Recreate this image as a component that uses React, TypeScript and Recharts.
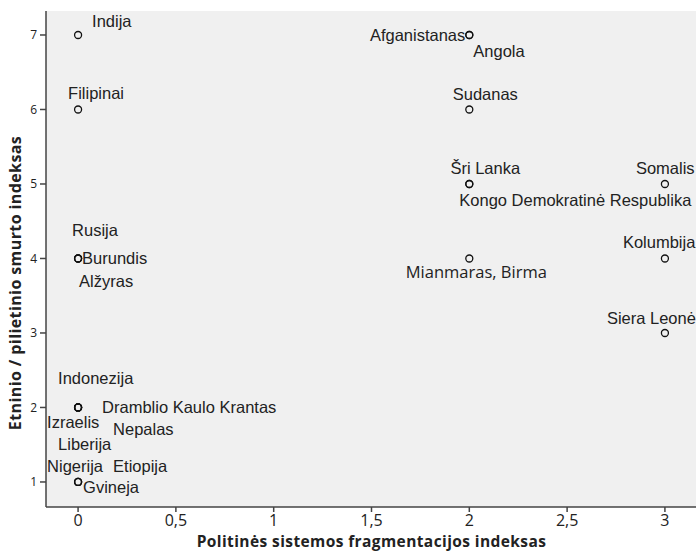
import React from 'react';
import { ScatterChart, Scatter, XAxis, YAxis, CartesianGrid } from 'recharts';

const countries = [
  'Indija', 'Filipinai', 'Rusija', 'Burundis', 'Alžyras', 'Indonezija',
  'Dramblio Kaulo Krantas', 'Izraelis', 'Nepalas', 'Liberija', 'Nigerija',
  'Etiopija', 'Gvineja', 'Afganistanas', 'Angola', 'Sudanas', 'Šri Lanka',
  'Kongo Demokratinė Respublika', 'Mianmaras, Birma', 'Somalis', 'Kolumbija',
  'Siera Leonė',
];
const fragmentation = [0, 0, 0, 0, 0, 0, 0, 0, 0, 0, 0, 0, 0, 2, 2, 2, 2, 2, 2, 3, 3, 3];
const violence = [7, 6, 4, 4, 4, 2, 2, 2, 2, 2, 1, 1, 1, 7, 7, 6, 5, 5, 4, 5, 4, 3];

const xTicks = [0, 0.5, 1, 1.5, 2, 2.5, 3];
const yTicks = [1, 2, 3, 4, 5, 6, 7];

// label placement relative to the marker (px)
const labelPos: Record<string, { dx: number; dy: number; anchor: 'start' | 'middle' | 'end'; font?: string }> = {
  'Indija': { dx: 14, dy: -14, anchor: 'start' },
  'Filipinai': { dx: -10, dy: -16, anchor: 'start' },
  'Rusija': { dx: -6, dy: -28, anchor: 'start' },
  'Burundis': { dx: 4, dy: 0, anchor: 'start' },
  'Alžyras': { dx: 1, dy: 23, anchor: 'start' },
  'Indonezija': { dx: -20, dy: -29, anchor: 'start' },
  'Dramblio Kaulo Krantas': { dx: 24, dy: 0, anchor: 'start' },
  'Izraelis': { dx: -31, dy: 15, anchor: 'start' },
  'Nepalas': { dx: 35, dy: 22, anchor: 'start' },
  'Liberija': { dx: -20, dy: 37, anchor: 'start' },
  'Nigerija': { dx: -31, dy: -16, anchor: 'start' },
  'Etiopija': { dx: 35, dy: -16, anchor: 'start' },
  'Gvineja': { dx: 5, dy: 5, anchor: 'start' },
  'Afganistanas': { dx: -4, dy: 0, anchor: 'end' },
  'Angola': { dx: 4, dy: 16, anchor: 'start' },
  'Sudanas': { dx: 16, dy: -15, anchor: 'middle' },
  'Šri Lanka': { dx: 16, dy: -16, anchor: 'middle' },
  'Kongo Demokratinė Respublika': { dx: -10, dy: 16, anchor: 'start' },
  'Mianmaras, Birma': { dx: 7, dy: 13, anchor: 'middle', font: '"Open Sans", sans-serif' },
  'Somalis': { dx: -29, dy: -16, anchor: 'start' },
  'Kolumbija': { dx: -42, dy: -16, anchor: 'start' },
  'Siera Leonė': { dx: -58, dy: -15, anchor: 'start' },
};

const data = countries.map((name, i) => ({ name, x: fragmentation[i], y: violence[i] }));

const PointWithLabel = (props: any) => {
  const { cx, cy, payload } = props;
  const pos = labelPos[payload.name];
  return (
    <g>
      <circle cx={cx} cy={cy} r={3.5} fill="none" stroke="#111" strokeWidth={1.3} />
      <text
        x={cx + pos.dx}
        y={cy + pos.dy}
        textAnchor={pos.anchor}
        dominantBaseline="central"
        fontFamily={pos.font || '"Liberation Sans", Arial, sans-serif'}
        fontSize={16.5}
        fill="#222"
      >
        {payload.name}
      </text>
    </g>
  );
};

const YTitle = (props: any) => {
  const { viewBox } = props;
  const x = viewBox.x + 15;
  const y = viewBox.y + viewBox.height / 2 + 24;
  return (
    <text x={x} y={y} transform={`rotate(-90 ${x} ${y})`} textAnchor="middle" dominantBaseline="central"
      fontFamily='"Open Sans", sans-serif' fontWeight="bold" fontSize={16} letterSpacing={0.4} fill="#222">
      Etninio / pilietinio smurto indeksas
    </text>
  );
};

const XTitle = (props: any) => {
  const { viewBox } = props;
  return (
    <text x={viewBox.x + viewBox.width / 2} y={541} textAnchor="middle" dominantBaseline="central"
      fontFamily='"Open Sans", sans-serif' fontWeight="bold" fontSize={15.5} letterSpacing={0.4} fill="#222">
      Politinės sistemos fragmentacijos indeksas
    </text>
  );
};

export default function App() {
  return (
    <div style={{ position: 'absolute', left: 0, top: 0, width: 696, height: 552, overflow: 'hidden', background: '#fff' }}>
      <ScatterChart width={720} height={552} margin={{ top: 11, right: 23, bottom: 0, left: 0 }}>
        <CartesianGrid fill="#f0f0f0" horizontal={false} vertical={false} />
        <XAxis
          xAxisId="top"
          orientation="top"
          type="number"
          dataKey="x"
          domain={[-0.164, 3.164]}
          height={0}
          tick={false}
          tickLine={false}
          axisLine={{ stroke: '#444', strokeWidth: 1.5 }}
        />
        <XAxis
          type="number"
          dataKey="x"
          domain={[-0.164, 3.164]}
          allowDataOverflow
          ticks={xTicks}
          interval={0}
          tickFormatter={(v: number) => String(v).replace('.', ',')}
          height={45}
          tickSize={5}
          tickMargin={3}
          axisLine={{ stroke: '#444', strokeWidth: 1.5 }}
          tickLine={{ stroke: '#444', strokeWidth: 1.5 }}
          tick={{ fontFamily: '"Open Sans", sans-serif', fontSize: 16, fill: '#222' }}
          label={<XTitle />}
        />
        <YAxis
          type="number"
          dataKey="y"
          domain={[0.664, 7.322]}
          allowDataOverflow
          ticks={yTicks}
          interval={0}
          width={46}
          tickSize={6}
          tickMargin={3}
          axisLine={{ stroke: '#444', strokeWidth: 1.5 }}
          tickLine={{ stroke: '#444', strokeWidth: 1.5 }}
          tick={{ fontFamily: '"Open Sans", sans-serif', fontSize: 12, fill: '#222' }}
          label={<YTitle />}
        />
        <Scatter data={data} shape={<PointWithLabel />} isAnimationActive={false} />
      </ScatterChart>
    </div>
  );
}
